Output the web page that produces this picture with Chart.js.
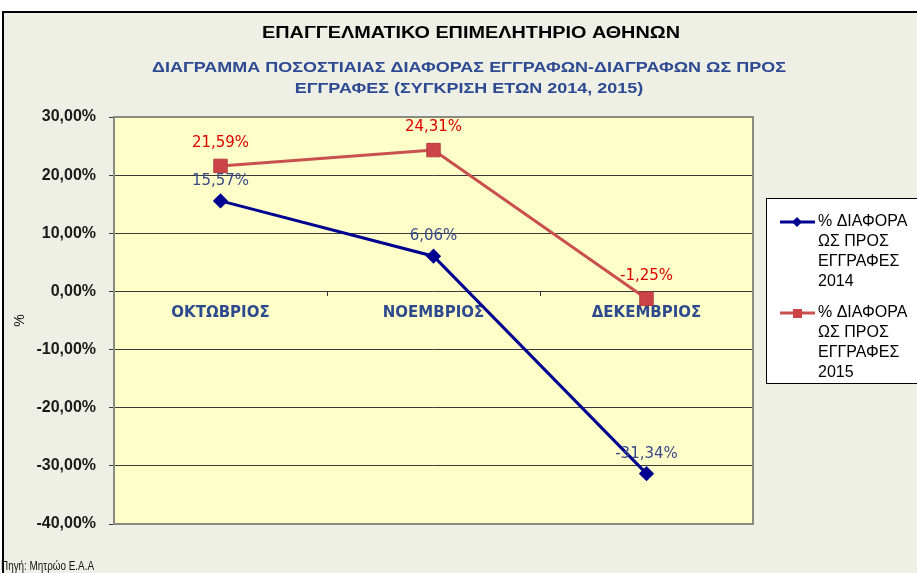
<!DOCTYPE html>
<html>
<head>
<meta charset="utf-8">
<script src="https://cdn.jsdelivr.net/npm/chart.js@4"></script>
<style>
html,body{margin:0;padding:0;background:#fff;}
#wrap{width:917px;height:573px;position:relative;}
</style>
</head>
<body>
<div id="wrap"><canvas id="c" width="917" height="573"></canvas></div>
<script>
const categories = ['ΟΚΤΩΒΡΙΟΣ', 'ΝΟΕΜΒΡΙΟΣ', 'ΔΕΚΕΜΒΡΙΟΣ'];
const values2014 = [15.57, 6.06, -31.34];
const values2015 = [21.59, 24.31, -1.25];
const label2014 = ['% ΔΙΑΦΟΡΑ', 'ΩΣ ΠΡΟΣ', 'ΕΓΓΡΑΦΕΣ', '2014'];
const label2015 = ['% ΔΙΑΦΟΡΑ', 'ΩΣ ΠΡΟΣ', 'ΕΓΓΡΑΦΕΣ', '2015'];
const yTicks = [30, 20, 10, 0, -10, -20, -30, -40];
const titleText = 'ΕΠΑΓΓΕΛΜΑΤΙΚΟ ΕΠΙΜΕΛΗΤΗΡΙΟ ΑΘΗΝΩΝ';
const subtitleLines = ['ΔΙΑΓΡΑΜΜΑ ΠΟΣΟΣΤΙΑΙΑΣ ΔΙΑΦΟΡΑΣ ΕΓΓΡΑΦΩΝ-ΔΙΑΓΡΑΦΩΝ ΩΣ ΠΡΟΣ', 'ΕΓΓΡΑΦΕΣ (ΣΥΓΚΡΙΣΗ ΕΤΩΝ 2014, 2015)'];
const sourceText = 'Πηγή: Μητρώο Ε.Α.Α';

const fmt = v => v.toFixed(2).replace('.', ',') + '%';
const FONT = '"Liberation Sans", Arial, sans-serif';
const WIDE = '"DejaVu Sans", Verdana, sans-serif';

function scaledText(ctx, text, x, y, sx) {
  ctx.save();
  ctx.translate(x, y);
  ctx.scale(sx, 1);
  ctx.fillText(text, 0, 0);
  ctx.restore();
}

const decor = {
  id: 'decor',
  beforeDraw(chart) {
    const ctx = chart.ctx, a = chart.chartArea;
    ctx.save();
    ctx.fillStyle = '#ffffff';
    ctx.fillRect(0, 0, chart.width, chart.height);
    ctx.fillStyle = '#eef0e5';
    ctx.fillRect(3, 12, chart.width, chart.height);
    ctx.strokeStyle = '#000';
    ctx.lineWidth = 2;
    ctx.beginPath();
    ctx.moveTo(3, chart.height);
    ctx.lineTo(3, 12);
    ctx.lineTo(chart.width, 12);
    ctx.stroke();
    ctx.fillStyle = '#fefec9';
    ctx.fillRect(a.left, a.top, a.right - a.left, a.bottom - a.top);
    ctx.restore();
  },
  beforeDatasetsDraw(chart) {
    const ctx = chart.ctx, a = chart.chartArea;
    ctx.save();
    ctx.strokeStyle = '#8a8a80';
    ctx.lineWidth = 2;
    ctx.strokeRect(a.left, a.top, a.right - a.left, a.bottom - a.top);
    ctx.restore();
  },
  afterDraw(chart) {
    const ctx = chart.ctx;
    ctx.save();
    ctx.textAlign = 'center';
    ctx.textBaseline = 'middle';
    ctx.fillStyle = '#000';
    ctx.font = 'bold 16px ' + FONT;
    let w = ctx.measureText(titleText).width;
    scaledText(ctx, titleText, 471, 34, 418 / w);
    ctx.fillStyle = '#2e4a92';
    ctx.font = 'bold 15px ' + FONT;
    w = ctx.measureText(subtitleLines[0]).width;
    const ss = 634 / w;
    scaledText(ctx, subtitleLines[0], 469, 68, ss);
    scaledText(ctx, subtitleLines[1], 469, 88.5, ss);

    // data labels
    ctx.font = '15px ' + WIDE;
    chart.data.datasets.forEach((ds, i) => {
      const meta = chart.getDatasetMeta(i);
      ctx.fillStyle = ds.labelColor;
      meta.data.forEach((pt, j) => {
        ctx.fillText(fmt(ds.data[j]), pt.x, pt.y - ds.labelOffset);
      });
    });

    // legend
    const lx = 766, ly = 198, lw = 160, lh = 185;
    ctx.fillStyle = '#fff';
    ctx.fillRect(lx, ly, lw, lh);
    ctx.strokeStyle = '#000';
    ctx.lineWidth = 1;
    ctx.strokeRect(lx + 0.5, ly + 0.5, lw, lh);
    const starts = [222, 313];
    chart.data.datasets.forEach((ds, i) => {
      const y0 = starts[i];
      ctx.strokeStyle = ds.borderColor;
      ctx.lineWidth = 3;
      ctx.beginPath();
      ctx.moveTo(780, y0);
      ctx.lineTo(815, y0);
      ctx.stroke();
      ctx.fillStyle = ds.pointBackgroundColor;
      ctx.beginPath();
      if (ds.pointStyle === 'rectRot') {
        ctx.moveTo(797, y0 - 5); ctx.lineTo(802, y0); ctx.lineTo(797, y0 + 5); ctx.lineTo(792, y0);
        ctx.closePath();
      } else {
        ctx.rect(793, y0 - 4, 9, 9);
      }
      ctx.fill();
      ctx.fillStyle = '#000';
      ctx.textAlign = 'left';
      ctx.font = '16px ' + FONT;
      ds.label.forEach((t, k) => ctx.fillText(t, 818, y0 + k * 20));
    });

    // source
    ctx.textAlign = 'left';
    ctx.fillStyle = '#111';
    ctx.font = '13px ' + FONT;
    w = ctx.measureText(sourceText).width;
    scaledText(ctx, sourceText, 1, 566, 93 / w);
    ctx.restore();
  }
};

new Chart(document.getElementById('c'), {
  type: 'line',
  data: {
    labels: categories,
    datasets: [
      {
        label: label2014,
        data: values2014,
        borderColor: '#000090',
        backgroundColor: '#000090',
        pointBackgroundColor: '#000090',
        pointBorderColor: '#000090',
        pointStyle: 'rectRot',
        pointRadius: 5.5,
        borderWidth: 3,
        tension: 0,
        labelColor: '#3b4a88',
        labelOffset: 20
      },
      {
        label: label2015,
        data: values2015,
        borderColor: '#c8504e',
        backgroundColor: '#c8504e',
        pointBackgroundColor: '#cc4448',
        pointBorderColor: '#b83c40',
        pointStyle: 'rect',
        pointRadius: 9.5,
        pointBorderWidth: 1,
        borderWidth: 3,
        tension: 0,
        labelColor: '#dd0000',
        labelOffset: 23
      }
    ]
  },
  options: {
    responsive: false,
    animation: false,
    layout: { padding: { left: 0, right: 164, top: 117, bottom: 49 } },
    plugins: { legend: { display: false }, tooltip: { enabled: false }, title: { display: false } },
    scales: {
      y: {
        min: -40, max: 30,
        afterBuildTicks(scale) { scale.ticks = yTicks.map(v => ({ value: v })); },
        afterFit(scale) { scale.width = 114; },
        ticks: {
          callback: v => fmt(v),
          font: { family: FONT, size: 16, weight: 'bold' },
          color: '#1a1a1a',
          padding: 13
        },
        grid: { color: '#3a3a3a', lineWidth: 1, tickLength: 5 },
        border: { display: false },
        title: {
          display: true, text: '%',
          font: { family: FONT, size: 14 },
          color: '#111',
          padding: { top: 12, bottom: 0 }
        }
      },
      x: {
        type: 'category',
        position: { y: 0 },
        offset: true,
        grid: { display: true, offset: true, drawOnChartArea: false, tickLength: 5, color: '#333' },
        border: { display: false },
        ticks: {
          font: { family: WIDE, size: 15, weight: 'bold' },
          color: '#2e4a8e',
          padding: 8,
          maxRotation: 0
        }
      }
    }
  },
  plugins: [decor]
});
</script>
</body>
</html>
